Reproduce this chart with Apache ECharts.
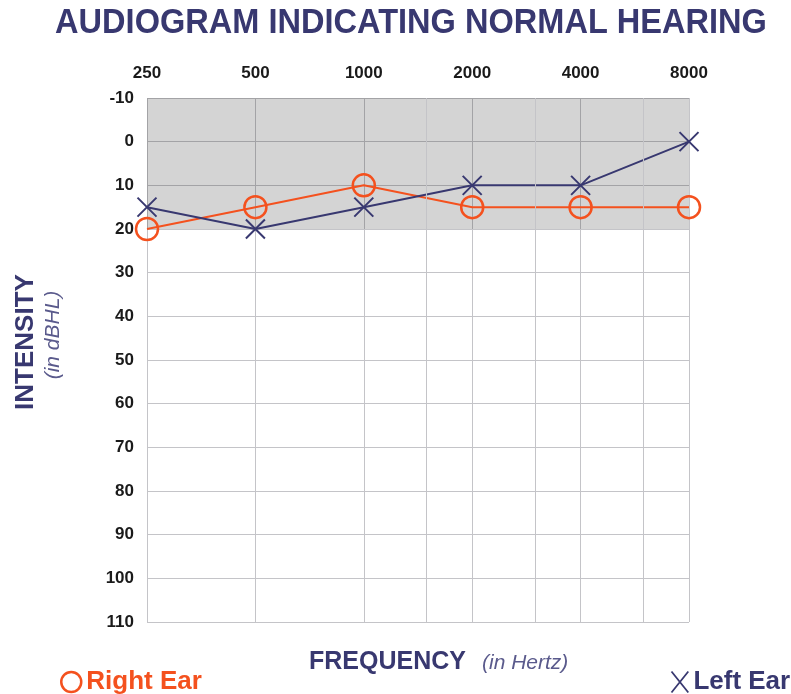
<!DOCTYPE html>
<html>
<head>
    <meta charset="utf-8">
    <title>audiogram</title>
    <style>
        html, body { margin: 0; padding: 0; background: #fff; }
        #container { width: 791px; height: 694px; }
    </style>
</head>
<body>
    <div id="container"></div>
    <script src="https://cdn.jsdelivr.net/npm/echarts@6/dist/echarts.min.js"></script>
    <script type="text/javascript">
        // frequencies (Hz) and hearing thresholds (dB HL)
        var freqs = [250, 500, 1000, 2000, 4000, 8000];
        var halfOctaves = [1500, 3000, 6000];
        var rightEar = [20, 15, 10, 15, 15, 15];
        var leftEar = [15, 20, 15, 10, 10, 0];
        var normalRange = [-10, 20];

        var navy = '#383870';
        var orange = '#f4511e';
        var gridColor = '#c4c4c8';
        var xPath = 'path://M0,0L10,10M10,0L0,10';
        var xIcon = 'path://M0,0L8,10M8,0L0,10';
        var font = 'Liberation Sans, Arial, sans-serif';

        // octave position of a frequency on the axis
        var oct = function (f) {
            return Math.log2(f / freqs[0]);
        };
        var toData = function (vals) {
            return freqs.map(function (f, i) {
                return [oct(f), vals[i]];
            });
        };

        var myChart = echarts.init(document.getElementById('container'));
        var option = {
            animation: false,
            legend: [{
                data: [{ name: 'Right Ear', icon: 'circle' }],
                left: 55,
                top: 664,
                itemWidth: 20,
                itemHeight: 22,
                itemGap: 9,
                itemStyle: { color: 'transparent', borderColor: orange, borderWidth: 2.5 },
                textStyle: { color: orange, fontSize: 26, fontWeight: 'bold', fontFamily: font }
            }, {
                data: [{ name: 'Left Ear', icon: xIcon }],
                left: 664,
                top: 664,
                itemWidth: 17,
                itemHeight: 21,
                itemGap: 10,
                itemStyle: { color: 'none', borderColor: navy, borderWidth: 1.8 },
                textStyle: { color: navy, fontSize: 26, fontWeight: 'bold', fontFamily: font }
            }],
            graphic: [{
                type: 'text',
                x: 411, y: 23,
                scaleX: 0.93,
                style: {
                    text: 'AUDIOGRAM INDICATING NORMAL HEARING',
                    fill: navy,
                    font: 'bold 35px ' + font,
                    align: 'center',
                    verticalAlign: 'middle'
                }
            }, {
                type: 'text',
                rotation: Math.PI / 2,
                x: 26, y: 342,
                style: {
                    text: 'INTENSITY',
                    fill: navy,
                    font: 'bold 26px ' + font,
                    align: 'center',
                    verticalAlign: 'middle'
                }
            }, {
                type: 'text',
                rotation: Math.PI / 2,
                x: 53, y: 335,
                style: {
                    text: '(in dBHL)',
                    fill: '#5a5a8c',
                    font: 'italic 21px ' + font,
                    align: 'center',
                    verticalAlign: 'middle'
                }
            }, {
                type: 'text',
                x: 309, y: 662,
                style: {
                    text: 'FREQUENCY',
                    fill: navy,
                    font: 'bold 25px ' + font,
                    verticalAlign: 'middle'
                }
            }, {
                type: 'text',
                x: 482, y: 663,
                style: {
                    text: '(in Hertz)',
                    fill: '#5a5a8c',
                    font: 'italic 21px ' + font,
                    verticalAlign: 'middle'
                }
            }],
            grid: {
                left: 147,
                right: 102,
                top: 98,
                bottom: 72
            },
            xAxis: {
                type: 'value',
                position: 'top',
                min: 0,
                max: oct(freqs[freqs.length - 1]),
                interval: 1,
                axisLine: { show: false },
                axisTick: { show: false },
                axisLabel: {
                    margin: 16,
                    color: '#1a1a1a',
                    fontSize: 17,
                    fontWeight: 'bold',
                    fontFamily: font,
                    formatter: function (v) {
                        return String(freqs[0] * Math.pow(2, v));
                    }
                },
                splitLine: { show: true, lineStyle: { color: gridColor, width: 1 } }
            },
            yAxis: {
                type: 'value',
                inverse: true,
                min: -10,
                max: 110,
                interval: 10,
                axisLine: { show: false },
                axisTick: { show: false },
                axisLabel: {
                    margin: 13,
                    color: '#1a1a1a',
                    fontSize: 17,
                    fontWeight: 'bold',
                    fontFamily: font
                },
                splitLine: { show: true, lineStyle: { color: gridColor, width: 1 } }
            },
            series: [{
                // half-octave grid lines
                type: 'line',
                z: 1,
                data: [],
                silent: true,
                markLine: {
                    silent: true,
                    symbol: 'none',
                    label: { show: false },
                    lineStyle: { color: gridColor, width: 1, type: 'solid' },
                    data: halfOctaves.map(function (f) {
                        return { xAxis: oct(f) };
                    })
                }
            }, {
                // normal hearing band
                type: 'line',
                z: 2,
                data: [],
                silent: true,
                markArea: {
                    silent: true,
                    itemStyle: { color: 'rgba(0,0,0,0.17)' },
                    data: [[{ yAxis: normalRange[0] }, { yAxis: normalRange[1] }]]
                }
            }, {
                name: 'Right Ear',
                type: 'line',
                z: 3,
                data: toData(rightEar),
                symbol: 'circle',
                symbolSize: 22,
                lineStyle: { color: orange, width: 2 },
                itemStyle: { color: 'transparent', borderColor: orange, borderWidth: 2.5 }
            }, {
                name: 'Left Ear',
                type: 'line',
                z: 4,
                data: toData(leftEar),
                symbol: xPath,
                symbolSize: 19,
                lineStyle: { color: navy, width: 2 },
                itemStyle: { color: 'none', borderColor: navy, borderWidth: 2 }
            }]
        };
        myChart.setOption(option);
    </script>
</body>
</html>
